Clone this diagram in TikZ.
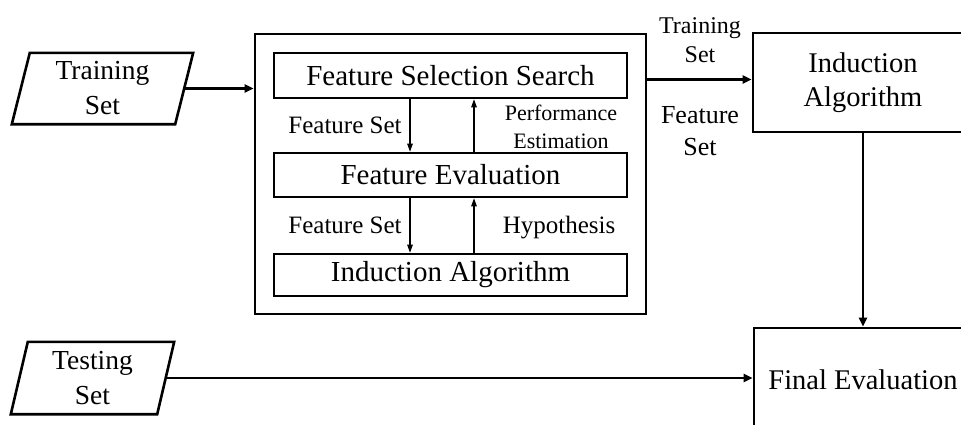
\documentclass[tikz,border=0pt]{standalone}
\usepackage{fontspec}
\setmainfont{Liberation Serif}
\usetikzlibrary{arrows.meta}
\newcommand\mybig{\fontsize{29}{34}\selectfont}
\newcommand\mymid{\fontsize{28.5}{34}\selectfont}
\newcommand\myin{\fontsize{27.5}{35}\selectfont}
\newcommand\mylbl{\fontsize{25}{31}\selectfont}
\newcommand\mysmall{\fontsize{22}{28}\selectfont}
\begin{document}
\begin{tikzpicture}[x=1pt,y=-1pt,
  box/.style={draw, line width=2.6pt, inner sep=0pt, align=center, font=\mybig},
  ghost/.style={inner sep=0pt, align=center, font=\myin},
  lbl/.style={inner sep=0pt, align=center, font=\mylbl},
  small/.style={inner sep=0pt, align=center, font=\mysmall},
  bigarrow/.style={line width=2.2pt, -{Triangle[length=9pt,width=8pt]}},
  smallarrow/.style={line width=1.1pt, -{Triangle[length=8pt,width=5.5pt]}}]
  \useasboundingbox (0,0) rectangle (961,424);
  \fill[white] (0,0) rectangle (961,424);
  \clip (0,0) rectangle (961,424);

  % input data (parallelograms)
  \node[ghost, minimum width=163pt, minimum height=71pt] (train) at (102.5,88.5) {Training\\Set};
  \draw[line width=2.6pt] ([xshift=9pt]train.north west) -- ([xshift=9pt]train.north east)
    -- ([xshift=-9pt]train.south east) -- ([xshift=-9pt]train.south west) -- cycle;
  \node[ghost, minimum width=146pt, minimum height=72pt] (test) at (92.5,378) {Testing\\Set};
  \draw[line width=2.6pt] ([xshift=8.5pt]test.north west) -- ([xshift=8.5pt]test.north east)
    -- ([xshift=-8.5pt]test.south east) -- ([xshift=-8.5pt]test.south west) -- cycle;

  % feature selection wrapper
  \node[box, minimum width=391pt, minimum height=280pt] (outer) at (450.5,174) {};
  \node[box, minimum width=353pt, minimum height=45pt] (fss) at (450.5,75.5) {Feature Selection Search};
  \node[box, minimum width=353pt, minimum height=44pt] (feval) at (450.5,175) {Feature Evaluation};
  \node[box, minimum width=353pt, minimum height=42pt] (ind) at (450.5,275) {Induction Algorithm};

  % right-hand stages
  \node[box, font=\mymid, minimum width=220pt, minimum height=99pt] (ind2) at (863,82.5) {Induction\\Algorithm};
  \node[box, font=\mymid, minimum width=218pt, minimum height=104pt] (final) at (863,380) {Final Evaluation};

  % inner loop
  \draw[smallarrow] ([xshift=-40.5pt]fss.south) -- ([xshift=-40.5pt]feval.north);
  \draw[smallarrow] ([xshift=23.5pt]feval.north) -- ([xshift=23.5pt]fss.south);
  \draw[smallarrow] ([xshift=-40.5pt]feval.south) -- ([xshift=-40.5pt]ind.north);
  \draw[smallarrow] ([xshift=23.5pt]ind.north) -- ([xshift=23.5pt]feval.south);

  \node[lbl, anchor=base] (fs1) at (345,133) {Feature Set};
  \node[small, anchor=base] (pe1) at (561,120) {Performance};
  \node[small, anchor=base] (pe2) at (561,148) {Estimation};
  \node[lbl, anchor=base] (fs2) at (345,233) {Feature Set};
  \node[lbl, anchor=base] (hyp) at (559,233) {Hypothesis};

  % main flow
  \draw[bigarrow] (train.east) -- (train.east -| outer.west);
  \draw[bigarrow] ([yshift=3pt]ind2.west -| outer.east) -- ([yshift=3pt]ind2.west);
  \draw[bigarrow] (ind2.south) -- (final.north);
  \draw[bigarrow] (test.east) -- (test.east -| final.west);

  \node[lbl, font=\fontsize{24}{30}\selectfont, anchor=base] (ts1) at (700,33) {Training};
  \node[lbl, font=\fontsize{24}{30}\selectfont, anchor=base] (ts2) at (700,62) {Set};
  \node[lbl, font=\fontsize{26}{30}\selectfont, anchor=base] (fs3) at (700,123) {Feature};
  \node[lbl, font=\fontsize{26}{30}\selectfont, anchor=base] (fs4) at (700,155) {Set};
\end{tikzpicture}
\end{document}
